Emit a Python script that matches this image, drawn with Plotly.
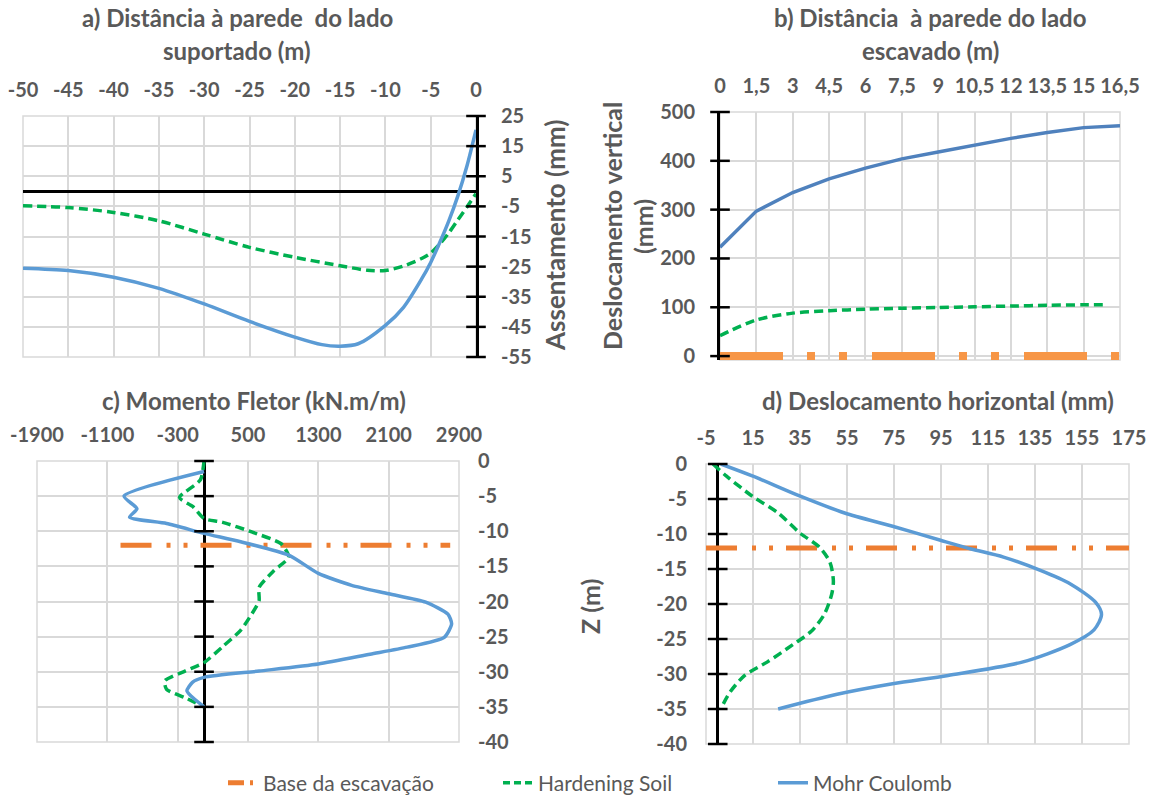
import plotly.graph_objects as go

W, H = 1153, 800

# ---------------- data ----------------
# a) Assentamento (mm) vs distance to wall, supported side (m)
a_x_mc = [-50, -45, -40, -35, -30, -25, -20, -17, -15, -13, -10, -8, -6, -5, -4, -3, -2, -1, 0]
a_y_mc = [-25.5, -26.3, -28.5, -32.2, -37.4, -43.2, -48.4, -50.9, -51.4, -50.6, -44.5, -38.5,
          -29.1, -23.6, -17.0, -9.8, -1.5, 8.4, 20.4]
a_x_hs = [-50, -45, -40, -35, -30, -25, -20, -15, -12, -10, -8, -6, -5, -4, -3, -2, -1, 0]
a_y_hs = [-4.8, -5.4, -7.0, -9.8, -14.2, -18.6, -21.9, -24.7, -26.2, -26.3, -24.8, -22.3,
          -20.5, -17.5, -13.8, -9.5, -5.2, -0.8]

# b) Deslocamento vertical (mm) vs distance to wall, excavated side (m)
b_x_mc = [0, 1.5, 3, 4.5, 6, 7.5, 9, 10.5, 12, 13.5, 15, 16.5]
b_y_mc = [223, 297, 335, 363, 385, 404, 418, 432, 446, 458, 468, 472]
b_x_hs = [0, 1.5, 3, 4.5, 6, 7.5, 9, 10.5, 12, 13.5, 15, 16]
b_y_hs = [42, 74, 88, 93, 96, 98, 99.5, 101, 102.5, 104, 105, 105.5]
b_x_base = [0, 16.5]
b_y_base = [0, 0]

# c) Momento fletor (kN.m/m) vs Z (m)
c_z_mc = [-1.5, -5.0, -6.8, -8.0, -8.9, -10.3, -11.5, -13.4, -16.0, -17.7, -18.9, -20.1, -21.8,
          -23.2, -25.1, -26.5, -27.5, -28.9, -29.9, -30.8, -31.5, -32.7, -33.4, -35.0]
c_m_mc = [0, -910, -763, -847, -426, 0, 416, 963, 1300, 1679, 2100, 2521, 2774,
          2816, 2732, 2311, 1889, 1300, 626, 0, -132, -195, -153, 0]
c_z_hs = [0, -2.7, -5.2, -6.5, -8.2, -8.7, -10.1, -11.8, -13.7, -15.6, -18.0, -19.9, -21.8,
          -24.1, -26.5, -28.7, -29.9, -31.3, -32.5, -33.7, -35.0]
c_m_hs = [0, -42, -279, -126, 0, 205, 542, 879, 963, 795, 626, 626, 542,
          416, 205, 0, -216, -447, -426, -216, 0]
c_m_base = [-950, 2800]
c_z_base = [-12, -12]

# d) Deslocamento horizontal (mm) vs Z (m)
d_z_mc = [0, -1.7, -4.6, -7.0, -8.9, -10.9, -12.1, -13.3, -15.2, -17.1, -19.8, -21.5, -23.7,
          -25.8, -28.3, -30.2, -31.4, -32.9, -35.0]
d_u_mc = [1.3, 14.7, 35.1, 54.0, 74.4, 94.8, 107.4, 121.6, 137.3, 149.9, 160.9, 163.3, 160.1,
          149.9, 129.5, 98.0, 74.4, 50.8, 25.7]
d_z_hs = [0, -1.7, -4.6, -7.0, -9.9, -11.8, -14.0, -16.7, -18.6, -21.5, -23.9, -25.8, -28.3,
          -30.2, -32.6, -35.0]
d_u_hs = [-2.0, 3.6, 14.7, 25.7, 35.1, 43.0, 47.7, 49.2, 48.5, 45.3, 39.8, 32.0, 21.0,
          11.5, 5.2, 1.3]
d_u_base = [-5, 175]
d_z_base = [-12, -12]

# tick values / labels
a_xticks = [-50, -45, -40, -35, -30, -25, -20, -15, -10, -5, 0]
a_xlabels = ["-50", "-45", "-40", "-35", "-30", "-25", "-20", "-15", "-10", "-5", "0"]
a_yticks = [25, 15, 5, -5, -15, -25, -35, -45, -55]
a_ylabels = ["25", "15", "5", "-5", "-15", "-25", "-35", "-45", "-55"]
b_xticks = [0, 1.5, 3, 4.5, 6, 7.5, 9, 10.5, 12, 13.5, 15, 16.5]
b_xlabels = ["0", "1,5", "3", "4,5", "6", "7,5", "9", "10,5", "12", "13,5", "15", "16,5"]
b_yticks = [0, 100, 200, 300, 400, 500]
b_ylabels = ["0", "100", "200", "300", "400", "500"]
c_xticks = [-1900, -1100, -300, 500, 1300, 2100, 2900]
c_xlabels = ["-1900", "-1100", "-300", "500", "1300", "2100", "2900"]
z_ticks = [0, -5, -10, -15, -20, -25, -30, -35, -40]
z_labels = ["0", "-5", "-10", "-15", "-20", "-25", "-30", "-35", "-40"]
d_xticks = [-5, 15, 35, 55, 75, 95, 115, 135, 155, 175]
d_xlabels = ["-5", "15", "35", "55", "75", "95", "115", "135", "155", "175"]

legend_names = ["Base da escavação", "Hardening Soil", "Mohr Coulomb"]

# ---------------- styles ----------------
FONT = "Lato"
GRAY = "#595959"
GRID = "#D9D9D9"
BLUE = "#5B9BD5"
BLUE_B = "#4F81BD"
GREEN = "#00B050"
ORANGE = "#ED7D31"
ORANGE_B = "#F79646"
DASH_GREEN = "9px,5px"
DASH_BASE = "31px,15px,4px,13px,4px,13px"
DASH_BASE_B = "63px,24px,8px,24px,8px,25px"
DASH_BASE_LEG = "16px,6px,3px,6px,3px,6px"

tickfont = dict(family=FONT, size=20, color=GRAY, weight="bold")


def px_dom(a, b, total):
    return [a / total, b / total]


def ydom(top, bottom):
    return [1 - bottom / H, 1 - top / H]


fig = go.Figure()


def line(x, y, xa, ya, color, width, dash="solid", shape="linear", smooth=1.0):
    kw = dict(color=color, width=width, dash=dash, shape=shape)
    if shape == "spline":
        kw["smoothing"] = smooth
    fig.add_trace(go.Scatter(x=x, y=y, xaxis=xa, yaxis=ya, mode="lines", line=kw,
                             showlegend=False, hoverinfo="skip"))


def axis_ticks(vals, xa, ya):
    # crossing tick marks on the black vertical axis drawn at value 0
    fig.add_trace(go.Scatter(x=[0] * len(vals), y=vals, xaxis=xa, yaxis=ya, mode="markers",
                             marker=dict(symbol="line-ew", size=14,
                                         line=dict(color="black", width=2.5)),
                             cliponaxis=False, showlegend=False, hoverinfo="skip"))


# --- panel a ---
line(a_x_hs, a_y_hs, "x", "y", GREEN, 3.5, DASH_GREEN, "spline", 0.8)
line(a_x_mc, a_y_mc, "x", "y", BLUE, 3.5, "solid", "spline", 0.8)
axis_ticks(a_yticks, "x", "y")

# --- panel b ---
line(b_x_base, b_y_base, "x2", "y2", ORANGE_B, 8, DASH_BASE_B)
line(b_x_hs, b_y_hs, "x2", "y2", GREEN, 3.5, DASH_GREEN, "spline", 0.8)
line(b_x_mc, b_y_mc, "x2", "y2", BLUE_B, 3.5)
axis_ticks(b_yticks, "x2", "y2")

# --- panel c ---
line(c_m_base, c_z_base, "x3", "y3", ORANGE, 5, DASH_BASE)
line(c_m_hs, c_z_hs, "x3", "y3", GREEN, 3.5, DASH_GREEN, "spline", 0.6)
line(c_m_mc, c_z_mc, "x3", "y3", BLUE, 3.5, "solid", "spline", 0.6)
axis_ticks(z_ticks, "x3", "y3")

# --- panel d ---
line(d_u_base, d_z_base, "x4", "y4", ORANGE, 5, DASH_BASE)
line(d_u_hs, d_z_hs, "x4", "y4", GREEN, 3.5, DASH_GREEN, "spline", 0.8)
line(d_u_mc, d_z_mc, "x4", "y4", BLUE, 3.5, "solid", "spline", 0.8)
axis_ticks(z_ticks, "x4", "y4")

# --- legend-only entries ---
for name, color, width, dash in zip(legend_names, [ORANGE, GREEN, BLUE], [5, 3.5, 3.5],
                                    [DASH_BASE_LEG, "7px,4px", "solid"]):
    fig.add_trace(go.Scatter(x=[None], y=[None], xaxis="x3", yaxis="y3", mode="lines",
                             name=name, line=dict(color=color, width=width, dash=dash),
                             showlegend=True, hoverinfo="skip"))

common_x = dict(side="top", showgrid=True, gridcolor=GRID, gridwidth=1.5, ticks="",
                tickfont=tickfont, showline=False, ticklabelstandoff=14, automargin=False)
common_y = dict(showgrid=True, gridcolor=GRID, gridwidth=1.5, ticks="", tickfont=tickfont,
                ticklabelstandoff=18, automargin=False)

fig.update_layout(
    width=W, height=H,
    margin=dict(l=0, r=0, t=0, b=0, autoexpand=False),
    paper_bgcolor="white", plot_bgcolor="white",
    showlegend=True,
    legend=dict(orientation="h", x=223 / W, xanchor="left", y=1 - 783 / H, yanchor="middle",
                font=dict(family=FONT, size=21, color=GRAY),
                entrywidth=230, entrywidthmode="pixels", traceorder="normal"),
    # panel a
    xaxis=dict(domain=px_dom(23, 476, W), range=[-50, 0], tickvals=a_xticks,
               ticktext=a_xlabels, zeroline=False, anchor="y", **common_x),
    yaxis=dict(domain=ydom(116, 357), range=[-55, 25], tickvals=a_yticks, ticktext=a_ylabels,
               side="right", anchor="x", showline=True, linecolor="black", linewidth=3,
               zeroline=True, zerolinecolor="black", zerolinewidth=2.5, **common_y),
    # panel b
    xaxis2=dict(domain=px_dom(720, 1120, W), range=[0, 16.5], tickvals=b_xticks,
                ticktext=b_xlabels, zeroline=False, anchor="y2", **common_x),
    yaxis2=dict(domain=ydom(112, 360), range=[-8, 500], tickvals=b_yticks, ticktext=b_ylabels,
                side="left", anchor="x2", showline=True, linecolor="black", linewidth=3,
                zeroline=False, **common_y),
    # panel c
    xaxis3=dict(domain=px_dom(37, 459, W), range=[-1900, 2900], tickvals=c_xticks,
                ticktext=c_xlabels, zeroline=True, zerolinecolor="black", zerolinewidth=3,
                anchor="y3", **common_x),
    yaxis3=dict(domain=ydom(461, 742), range=[-40, 0], tickvals=z_ticks, ticktext=z_labels,
                side="right", anchor="x3", zeroline=False, showline=False, **common_y),
    # panel d
    xaxis4=dict(domain=px_dom(706, 1129, W), range=[-5, 175], tickvals=d_xticks,
                ticktext=d_xlabels, zeroline=True, zerolinecolor="black", zerolinewidth=3,
                anchor="y4", **common_x),
    yaxis4=dict(domain=ydom(464, 744), range=[-40, 0], tickvals=z_ticks, ticktext=z_labels,
                side="left", anchor="x4", zeroline=False, showline=False, **common_y),
)

# light grey plot-area frames (the outermost gridlines of each panel)
for xa, ya in [("x", "y"), ("x2", "y2"), ("x3", "y3"), ("x4", "y4")]:
    fig.add_shape(type="rect", xref=f"{xa} domain", yref=f"{ya} domain",
                  x0=0, x1=1, y0=0, y1=1, line=dict(color=GRID, width=1.5), layer="below")


def ann(text, xpx, ypx, angle=0, size=24):
    fig.add_annotation(text=text, x=xpx / W, y=1 - ypx / H, xref="paper", yref="paper",
                       showarrow=False, textangle=angle, xanchor="center", yanchor="middle",
                       font=dict(family=FONT, size=size, color=GRAY, weight="bold"))


ann("a) Distância à parede  do lado", 237, 18)
ann("suportado (m)", 237, 50)
ann("b) Distância  à parede do lado", 930, 18)
ann("escavado (m)", 930, 50)
ann("c) Momento Fletor (kN.m/m)", 254, 400)
ann("d) Deslocamento horizontal (mm)", 938, 400)
ann("Assentamento (mm)", 555, 236, angle=-90, size=26)
ann("Deslocamento vertical", 612, 226, angle=-90, size=25)
ann("(mm)", 643, 226, angle=-90, size=25)
ann("Z (m)", 590, 607, angle=-90, size=25)

fig.write_html("out.html")
